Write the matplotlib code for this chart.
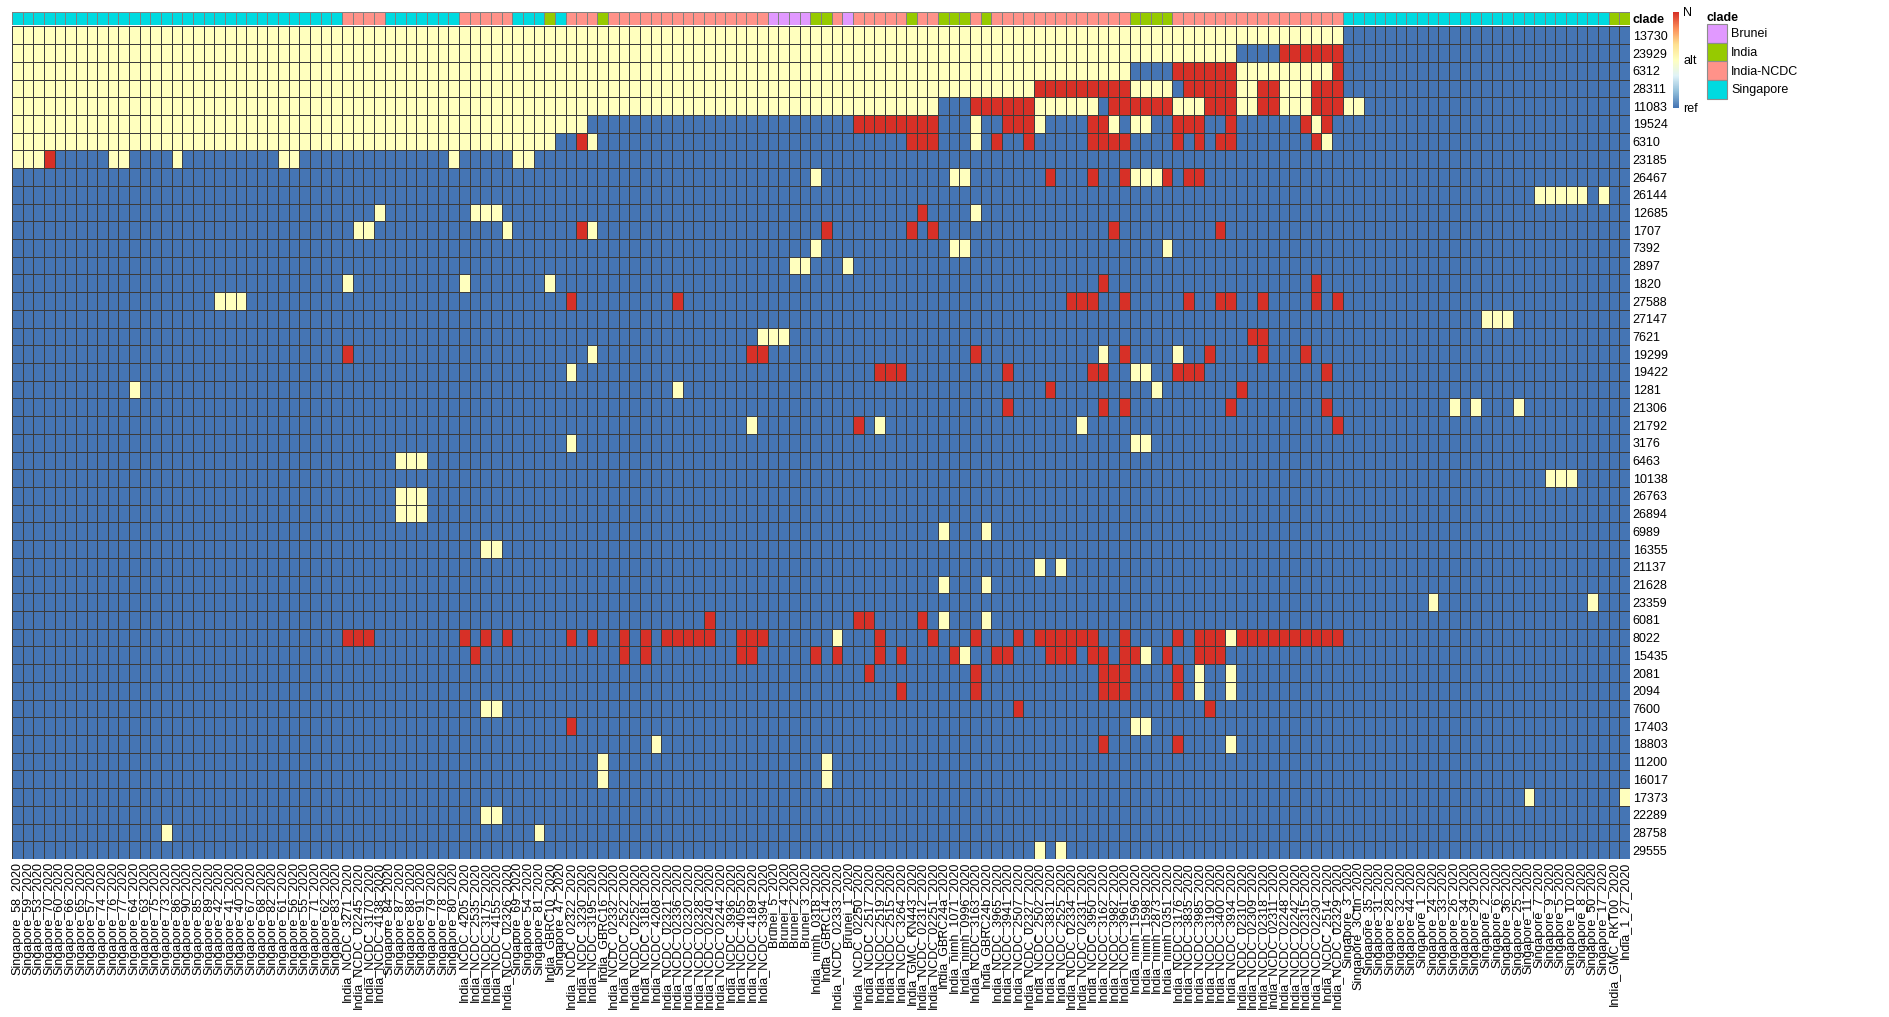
import numpy as np
import matplotlib
matplotlib.use("Agg")
import matplotlib.pyplot as plt
from matplotlib.colors import LinearSegmentedColormap, ListedColormap
from matplotlib.patches import Patch

plt.rcParams['font.family'] = ['Liberation Sans', 'DejaVu Sans']

# sample order along the top (left to right)
samples = [
    "Singapore_58_2020", "Singapore_59_2020", "Singapore_53_2020", "Singapore_70_2020",
    "Singapore_60_2020", "Singapore_66_2020", "Singapore_65_2020", "Singapore_57_2020",
    "Singapore_74_2020", "Singapore_76_2020", "Singapore_77_2020", "Singapore_64_2020",
    "Singapore_63_2020", "Singapore_75_2020", "Singapore_73_2020", "Singapore_86_2020",
    "Singapore_90_2020", "Singapore_85_2020", "Singapore_89_2020", "Singapore_42_2020",
    "Singapore_41_2020", "Singapore_40_2020", "Singapore_67_2020", "Singapore_68_2020",
    "Singapore_82_2020", "Singapore_61_2020", "Singapore_56_2020", "Singapore_55_2020",
    "Singapore_71_2020", "Singapore_62_2020", "Singapore_83_2020",
    "India_NCDC_3271_2020", "India_NCDC_02245_2020", "India_NCDC_3170_2020", "India_NCDC_4138_2020",
    "Singapore_84_2020", "Singapore_87_2020", "Singapore_88_2020", "Singapore_91_2020",
    "Singapore_79_2020", "Singapore_78_2020", "Singapore_80_2020",
    "India_NCDC_4205_2020", "India_NCDC_2535_2020", "India_NCDC_3175_2020", "India_NCDC_4155_2020",
    "India_NCDC_02326_2020",
    "Singapore_69_2020", "Singapore_54_2020", "Singapore_81_2020",
    "India_GBRC10_2020", "Singapore_47_2020",
    "India_NCDC_02322_2020", "India_NCDC_3230_2020", "India_NCDC_3195_2020", "India_GBRC16_2020",
    "India_NCDC_02332_2020", "India_NCDC_2522_2020", "India_NCDC_02252_2020", "India_NCDC_3181_2020",
    "India_NCDC_4208_2020", "India_NCDC_02321_2020", "India_NCDC_02336_2020", "India_NCDC_02320_2020",
    "India_NCDC_02328_2020", "India_NCDC_02240_2020", "India_NCDC_02244_2020", "India_NCDC_3936_2020",
    "India_NCDC_4055_2020", "India_NCDC_4189_2020", "India_NCDC_3394_2020",
    "Brunei_5_2020", "Brunei_4_2020", "Brunei_2_2020", "Brunei_3_2020",
    "India_nimh_0318_2020", "India_GBRC14_2020", "India_NCDC_02333_2020", "Brunei_1_2020",
    "India_NCDC_02250_2020", "India_NCDC_2517_2020", "India_NCDC_2519_2020", "India_NCDC_2515_2020",
    "India_NCDC_3264_2020", "India_GMC_KN443_2020", "India_NCDC_02312_2020", "India_NCDC_02251_2020",
    "India_GBRC24a_2020", "India_nimh_1071_2020", "India_nimh_0996_2020", "India_NCDC_3163_2020",
    "India_GBRC24b_2020", "India_NCDC_3965_2020", "India_NCDC_3941_2020", "India_NCDC_2507_2020",
    "India_NCDC_02327_2020", "India_NCDC_2502_2020", "India_NCDC_3831_2020", "India_NCDC_2525_2020",
    "India_NCDC_02334_2020", "India_NCDC_02331_2020", "India_NCDC_3950_2020", "India_NCDC_3162_2020",
    "India_NCDC_3982_2020", "India_NCDC_3961_2020",
    "India_nimh_1596_2020", "India_nimh_1598_2020", "India_nimh_2873_2020", "India_nimh_0351_2020",
    "India_NCDC_3176_2020", "India_NCDC_3835_2020", "India_NCDC_3985_2020", "India_NCDC_3190_2020",
    "India_NCDC_3400_2020", "India_NCDC_3934_2020", "India_NCDC_02310_2020", "India_NCDC_02309_2020",
    "India_NCDC_02318_2020", "India_NCDC_02311_2020", "India_NCDC_02248_2020", "India_NCDC_02242_2020",
    "India_NCDC_02315_2020", "India_NCDC_02230_2020", "India_NCDC_2514_2020", "India_NCDC_02329_2020",
    "Singapore_3_2020", "Singapore_3Ctin_2020", "Singapore_35_2020", "Singapore_31_2020",
    "Singapore_28_2020", "Singapore_32_2020", "Singapore_44_2020", "Singapore_1_2020",
    "Singapore_24_2020", "Singapore_33_2020", "Singapore_26_2020", "Singapore_34_2020",
    "Singapore_29_2020", "Singapore_2_2020", "Singapore_6_2020", "Singapore_36_2020",
    "Singapore_25_2020", "Singapore_11_2020", "Singapore_7_2020", "Singapore_9_2020",
    "Singapore_5_2020", "Singapore_10_2020", "Singapore_8_2020", "Singapore_50_2020",
    "Singapore_17_2020", "India_GMC_RKT00_2020", "India_1_27_2020",
]

# genome positions (rows, top to bottom)
positions = ["13730", "23929", "6312", "28311", "11083", "19524", "6310", "23185", "26467",
             "26144", "12685", "1707", "7392", "2897", "1820", "27588", "27147", "7621",
             "19299", "19422", "1281", "21306", "21792", "3176", "6463", "10138", "26763",
             "26894", "6989", "16355", "21137", "21628", "23359", "6081", "8022", "15435",
             "2081", "2094", "7600", "17403", "18803", "11200", "16017", "17373", "22289",
             "28758", "29555"]

# sample columns (0-based) carrying the alt base, one entry per position
alt_cols = [
    "0-124", "0-114", "0-104 115-123",
    "0-95 105-108 115-116 119-121",
    "0-86 96-101 109-111 115-116 119-121 125-126",
    "0-53 90 96 103 105-106 122",
    "0-50 54 90 123",
    "0-2 9-10 15 25-26 41 47-48",
    "75 88-89 105-107", "143-147 149", "34 43-45 90", "32-33 46 54",
    "75 88-89 108", "73-74 78", "31 42 50", "19-21", "138-140", "70-72",
    "54 102 109", "52 105-106", "11 62 107", "135 137 141", "69 81 100",
    "52 105-106", "36-38", "144-146", "36-38", "36-38", "87 91", "44-45",
    "96 98", "87 91", "133 148", "87 91", "77 114", "89 106", "111 114",
    "111 114", "44-45", "105-106", "60 114", "55 76", "55 76", "142 151",
    "44-45", "14 49", "96 98",
]

# sample columns with an N call, one entry per position
n_cols = [
    "", "119-124", "109-114 124",
    "96-104 110-114 117-118 122-124",
    "90-95 103-108 112-114 117-118 122-124",
    "79-86 93-95 101-102 109-111 114 121 123",
    "53 84-86 92 95 101-104 109 111 113-114 122",
    "3", "97 101 104 108 110-111", "", "85", "53 76 84 86 103 113",
    "", "", "102 122",
    "52 62 99-101 104 110 113-114 117 122 124",
    "", "116-117", "31 69-70 90 104 112 117 121",
    "81-83 93 101-102 109-111 123", "97 115", "93 102 104 114 123", "79 124",
    "", "", "", "", "", "", "", "", "", "",
    "65 79-80 85",
    "31-33 42 44 46 52 54 57 59 61-65 68-70 81 86 90 94 96-101 104 109 111-113 115-124",
    "43 57 59 68-69 75 77 81 83 88 92-93 97-99 101-102 104-105 108 111-113",
    "80 90 102-104 109", "83 90 102-104 109", "94 112", "52", "102 109",
    "", "", "", "", "", "",
]

clades = ["Brunei", "India", "India-NCDC", "Singapore"]
clade_colors = ["#E199FF", "#96CA00", "#FF9289", "#00DAE0"]
call_labels = ["ref", "alt", "N"]


def expand(spec):
    out = []
    for part in spec.split():
        if "-" in part:
            a, b = part.split("-")
            out.extend(range(int(a), int(b) + 1))
        else:
            out.append(int(part))
    return out


def clade_of(name):
    if name.startswith("Singapore"):
        return "Singapore"
    if name.startswith("Brunei"):
        return "Brunei"
    if name.startswith("India_NCDC"):
        return "India-NCDC"
    return "India"


calls = np.zeros((len(positions), len(samples)))
for i in range(len(positions)):
    calls[i, expand(alt_cols[i])] = 1
    calls[i, expand(n_cols[i])] = 2

clade_idx = np.array([clades.index(clade_of(s)) for s in samples])

# pheatmap-like RdYlBu ramp
cmap = LinearSegmentedColormap.from_list(
    "rdylbu7", ["#4575B4", "#91BFDB", "#E0F3F8", "#FFFFBF", "#FEE090", "#FC8D59", "#D73027"])

W, H = 1890, 1017
fig = plt.figure(figsize=(W / 100, H / 100), dpi=100)

# main heatmap
ax = fig.add_axes([12 / W, 1 - 859 / H, 1618 / W, (859 - 26.5) / H])
ax.pcolormesh(calls, cmap=cmap, vmin=0, vmax=2, edgecolors="#3c3c3c", linewidth=0.5)
ax.set_xlim(0, len(samples))
ax.set_ylim(len(positions), 0)
ax.set_xticks(np.arange(len(samples)) + 0.5)
ax.set_xticklabels(samples, rotation=90, fontsize=9)
ax.yaxis.tick_right()
ax.set_yticks(np.arange(len(positions)) + 0.5)
ax.set_yticklabels(positions, fontsize=9)
ax.tick_params(length=0, pad=2)
for s in ax.spines.values():
    s.set_visible(False)

# clade annotation bar
bx = fig.add_axes([12 / W, 1 - 25 / H, 1618 / W, 13 / H])
bx.pcolormesh(clade_idx[None, :], cmap=ListedColormap(clade_colors), vmin=-0.5, vmax=3.5,
              edgecolors="#808080", linewidth=0.5)
bx.set_xlim(0, len(samples))
bx.set_xticks([])
bx.yaxis.tick_right()
bx.set_yticks([0.5])
bx.set_yticklabels(["clade"], fontsize=9, fontweight="bold")
bx.tick_params(length=0, pad=2)
for s in bx.spines.values():
    s.set_visible(False)

# colour key
cax = fig.add_axes([1673 / W, 1 - 108 / H, 6 / W, 96 / H])
cax.imshow(np.linspace(0, 2, 200)[:, None], aspect="auto", cmap=cmap, origin="lower",
           extent=[0, 1, 0, 2])
cax.set_xticks([])
cax.yaxis.tick_right()
cax.set_yticks([0, 1, 2])
cax.set_yticklabels(call_labels, fontsize=9)
cax.tick_params(length=0, pad=3)
for s in cax.spines.values():
    s.set_visible(False)

# clade legend, keys stacked edge to edge
handles = [Patch(facecolor=c, edgecolor="#8c8c8c", linewidth=0.8, label=l)
           for l, c in zip(clades, clade_colors)]
fig.legend(handles=handles, title="clade", loc="upper left",
           bbox_to_anchor=(1707 / W, 1 - 12 / H), frameon=False, fontsize=9,
           title_fontproperties={"weight": "bold", "size": 9},
           handlelength=1.6, handleheight=1.925, labelspacing=0, handletextpad=0.35,
           borderaxespad=0, borderpad=0, alignment="left")

fig.savefig("out.png", dpi=100)
